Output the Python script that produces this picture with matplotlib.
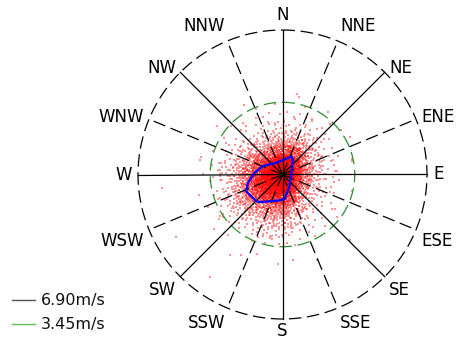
import numpy as np
import matplotlib
matplotlib.use("Agg")
import matplotlib.pyplot as plt
from matplotlib.lines import Line2D

# ---- data -------------------------------------------------------------
directions = ["N", "NNE", "NE", "ENE", "E", "ESE", "SE", "SSE",
              "S", "SSW", "SW", "WSW", "W", "WNW", "NW", "NNW"]
r_outer = 6.90          # m/s, outer ring
r_inner = 3.45          # m/s, inner ring

# observation counts per direction sector (rows) and speed bin (columns)
speed_edges = [0.0, 0.5, 1.0, 1.5, 2.0, 2.5, 3.0, 3.5, 4.5, 6.0]
obs_counts = [
    [70, 80, 50, 22, 9, 4, 2, 1, 0],    # N
    [70, 90, 60, 27, 11, 5, 2, 1, 0],   # NNE
    [70, 80, 50, 24, 10, 5, 2, 1, 0],   # NE
    [60, 60, 32, 15, 7, 3, 1, 1, 0],    # ENE
    [55, 50, 27, 12, 6, 3, 1, 0, 0],    # E
    [55, 50, 27, 12, 6, 3, 1, 0, 0],    # ESE
    [60, 60, 32, 15, 8, 4, 2, 1, 0],    # SE
    [70, 80, 55, 30, 14, 6, 3, 1, 0],   # SSE
    [75, 95, 78, 48, 26, 12, 5, 2, 0],  # S
    [75, 100, 88, 58, 31, 15, 6, 2, 1], # SSW
    [75, 105, 98, 68, 36, 18, 7, 3, 1], # SW
    [75, 105, 98, 68, 38, 20, 8, 3, 1], # WSW
    [75, 100, 82, 52, 28, 14, 6, 2, 1], # W
    [70, 90, 65, 36, 18, 8, 3, 1, 0],   # WNW
    [70, 80, 50, 23, 10, 5, 2, 1, 0],   # NW
    [70, 75, 45, 19, 8, 4, 2, 1, 0],    # NNW
]

# mean-speed outline: direction (deg) and speed (m/s)
outline_dir = [26, 33, 70, 149, 175, 187, 220, 225, 245, 256.5, 273.5, 293, 332, 13]
outline_spd = [0.94, 0.90, 0.47, 0.65, 1.17, 1.25, 1.72, 1.79, 1.91, 1.70, 1.34, 1.02, 0.64, 0.77]

legend_labels = ["6.90m/s", "3.45m/s"]

# ---- figure -----------------------------------------------------------
W, H = 460, 338
fig = plt.figure(figsize=(W / 100, H / 100), dpi=100)
cx, cy, R = 282.5, 174.5, 144.5
ax = fig.add_axes([(cx - R) / W, (H - cy - R) / H, 2 * R / W, 2 * R / H],
                  projection="polar")
ax.set_theta_zero_location("N")
ax.set_theta_direction(-1)
ax.set_ylim(0, r_outer)
ax.set_axis_off()

# scatter cloud: spread each sector/bin count evenly over its cell
g1, g2 = 0.7548776662, 0.5698402910
th_pts, sp_pts = [], []
for i, row in enumerate(obs_counts):
    centre = i * 22.5
    for j, n in enumerate(row):
        lo, hi = speed_edges[j], speed_edges[j + 1]
        for k in range(n):
            idx = k + 1 + 37 * i + 11 * j
            u = (0.5 + idx * g1) % 1.0
            v = (0.5 + idx * g2) % 1.0
            sp = np.round(lo + u * (hi - lo), 1)
            th_pts.append(np.deg2rad(centre + (v - 0.5) * 22.5))
            sp_pts.append(sp)
ax.scatter(th_pts, sp_pts, s=2.5, marker="s", color="red", alpha=0.42,
           linewidths=0, zorder=1)

# rings
dash = (10, 4.5)
circ = np.linspace(0, 2 * np.pi, 721)
ax.plot(circ, np.full_like(circ, r_outer), color="black", lw=0.9,
        dashes=dash, zorder=2, clip_on=False)
ax.plot(circ, np.full_like(circ, r_inner), color="#2e8b2e", lw=0.9,
        dashes=dash, zorder=2)

# spokes and direction labels
for i, name in enumerate(directions):
    ang = np.deg2rad(i * 22.5)
    if i % 2 == 0:
        ax.plot([ang, ang], [0, r_outer], color="black", lw=0.9, zorder=3,
                clip_on=False)
    else:
        ax.plot([ang, ang], [0, r_outer], color="black", lw=0.9,
                dashes=dash, zorder=3, clip_on=False)
    s, c = np.sin(ang), np.cos(ang)
    ha = "left" if s > 0.1 else ("right" if s < -0.1 else "center")
    if c > 0.8:
        va = "bottom"
    elif c < -0.1:
        va = "top"
    else:
        va = "center"
    gap = 2.5 if name == "S" else 6
    ax.text(ang, r_outer * (1 + gap / R), name, ha=ha, va=va, fontsize=12,
            color="black", clip_on=False)

# mean-speed outline
od = np.deg2rad(outline_dir + outline_dir[:1])
os_ = outline_spd + outline_spd[:1]
ax.plot(od, os_, color="#0000ff", lw=1.6, zorder=4)

# legend
legend_colors = ["#555555", "#5cc05c"]
legend_y = [300, 324]
for lab, col, yy in zip(legend_labels, legend_colors, legend_y):
    fig.add_artist(Line2D([12 / W, 35 / W], [1 - yy / H] * 2, color=col,
                          lw=1.0, transform=fig.transFigure))
    fig.text(41 / W, 1 - yy / H, lab, ha="left", va="center", fontsize=11.5,
             color="#111111")

fig.savefig("out.png", dpi=100)
